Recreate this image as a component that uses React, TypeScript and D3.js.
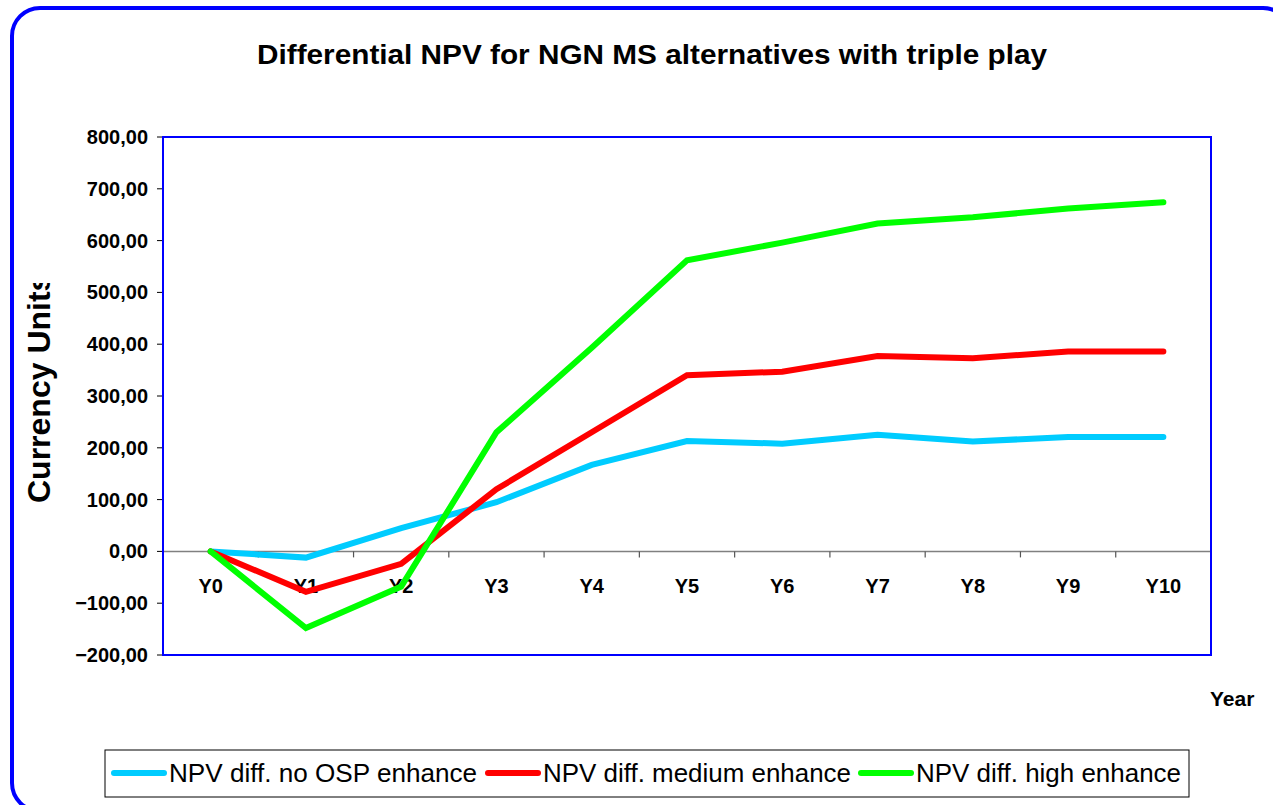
import { useEffect, useRef } from 'react';
import * as d3 from 'd3';

const years = ['Y0', 'Y1', 'Y2', 'Y3', 'Y4', 'Y5', 'Y6', 'Y7', 'Y8', 'Y9', 'Y10'];
const noOsp = [0, -12, 45, 95, 167, 213, 208, 225, 212, 221, 221];
const medium = [0, -78, -24, 120, 230, 340, 347, 377, 373, 386, 386];
const high = [0, -148, -68, 230, 393, 562, 596, 633, 645, 662, 674];
const seriesNames = ['NPV diff. no OSP enhance', 'NPV diff. medium enhance', 'NPV diff. high enhance'];
const seriesColors = ['#00CCFF', '#FF0000', '#00FF00'];
const yTicks = [800, 700, 600, 500, 400, 300, 200, 100, 0, -100, -200];

const W = 1273;
const H = 805;

const App = () => {
  const ref = useRef<SVGSVGElement>(null);

  useEffect(() => {
    const svg = d3.select(ref.current);
    svg.selectAll('*').remove();
    const font = 'Liberation Sans, Arial, sans-serif';

    // plot area
    const left = 163, right = 1211, top = 137, bottom = 655;

    const x = d3.scaleBand().domain(years).range([left, right]);
    const y = d3.scaleLinear().domain([-200, 800]).range([bottom, top]);
    const cx = (d: string) => (x(d) as number) + x.bandwidth() / 2;

    // outer frame (runs past the right and bottom edges)
    svg.append('rect')
      .attr('x', 12).attr('y', 8).attr('width', 1279).attr('height', 803)
      .attr('rx', 28).attr('fill', 'white')
      .attr('stroke', '#0000FF').attr('stroke-width', 4);

    // title
    svg.append('text')
      .attr('x', 652).attr('y', 64)
      .attr('text-anchor', 'middle')
      .attr('font-family', font).attr('font-weight', 'bold').attr('font-size', 27)
      .attr('textLength', 790).attr('lengthAdjust', 'spacingAndGlyphs')
      .text('Differential NPV for NGN MS alternatives with triple play');

    // y axis ticks + labels
    yTicks.forEach((t) => {
      svg.append('line')
        .attr('x1', left - 6).attr('x2', left)
        .attr('y1', y(t)).attr('y2', y(t))
        .attr('stroke', '#000').attr('stroke-width', 1);
      svg.append('text')
        .attr('x', 148).attr('y', y(t) + 7)
        .attr('text-anchor', 'end')
        .attr('font-family', font).attr('font-weight', 'bold').attr('font-size', 20)
        .text(d3.format('.2f')(t).replace('.', ','));
    });

    // zero line with tick marks between categories
    svg.append('line')
      .attr('x1', left).attr('x2', right)
      .attr('y1', y(0)).attr('y2', y(0))
      .attr('stroke', '#808080').attr('stroke-width', 1.5);
    years.forEach((d) => {
      const xt = x(d) as number;
      svg.append('line')
        .attr('x1', xt).attr('x2', xt)
        .attr('y1', y(0)).attr('y2', y(0) + 6)
        .attr('stroke', '#555').attr('stroke-width', 1.2);
      svg.append('text')
        .attr('x', cx(d)).attr('y', 593)
        .attr('text-anchor', 'middle')
        .attr('font-family', font).attr('font-weight', 'bold').attr('font-size', 20)
        .text(d);
    });

    // plot border
    svg.append('rect')
      .attr('x', left).attr('y', top)
      .attr('width', right - left).attr('height', bottom - top)
      .attr('fill', 'none').attr('stroke', '#0000FF').attr('stroke-width', 2);

    // lines
    const line = d3.line<number>()
      .x((_, i) => cx(years[i]))
      .y((v) => y(v));
    [noOsp, medium, high].forEach((s, i) => {
      svg.append('path')
        .datum(s)
        .attr('d', line)
        .attr('fill', 'none')
        .attr('stroke', seriesColors[i])
        .attr('stroke-width', 6)
        .attr('stroke-linejoin', 'miter')
        .attr('stroke-linecap', 'round');
    });

    // axis titles (y title is cut off at the top like the original)
    svg.append('clipPath').attr('id', 'yclip')
      .append('rect').attr('x', 0).attr('y', 283).attr('width', 100).attr('height', 300);
    svg.append('g')
      .attr('clip-path', 'url(#yclip)')
      .append('text')
      .attr('transform', 'translate(50,503) rotate(-90)')
      .attr('font-family', font).attr('font-weight', 'bold').attr('font-size', 32)
      .text('Currency Units');

    svg.append('text')
      .attr('x', 1210).attr('y', 706)
      .attr('font-family', font).attr('font-weight', 'bold').attr('font-size', 21)
      .text('Year');

    // legend
    const lg = svg.append('g');
    lg.append('rect')
      .attr('x', 105).attr('y', 750).attr('width', 1084).attr('height', 47)
      .attr('fill', 'white').attr('stroke', '#000').attr('stroke-width', 1);
    const itemX = [114, 488, 861];
    const textW = [308, 308, 265];
    seriesNames.forEach((n, i) => {
      lg.append('line')
        .attr('x1', itemX[i]).attr('x2', itemX[i] + 50)
        .attr('y1', 773).attr('y2', 773)
        .attr('stroke', seriesColors[i]).attr('stroke-width', 6)
        .attr('stroke-linecap', 'round');
      lg.append('text')
        .attr('x', itemX[i] + 55).attr('y', 782)
        .attr('font-family', font).attr('font-size', 25)
        .attr('textLength', textW[i]).attr('lengthAdjust', 'spacingAndGlyphs')
        .text(n);
    });
  }, []);

  return (
    <svg
      ref={ref}
      width={W}
      height={H}
      style={{ position: 'absolute', left: 0, top: 0, display: 'block' }}
    ></svg>
  );
};

export default App;
